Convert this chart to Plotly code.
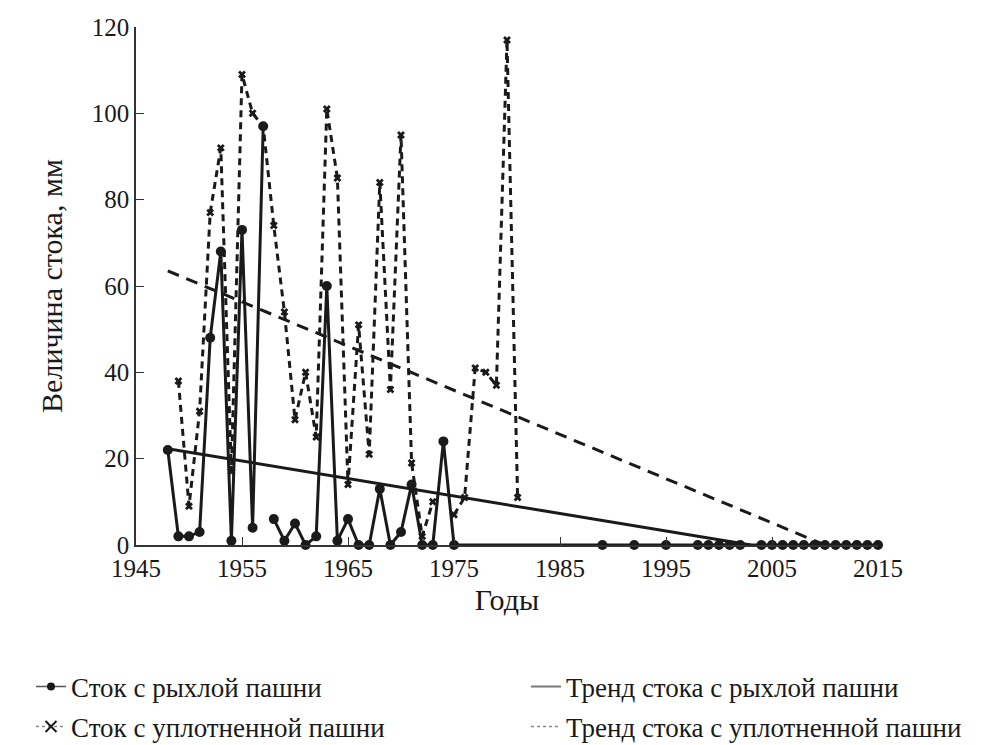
import plotly.graph_objects as go

# ---- data ----
years_loose = [1948, 1949, 1950, 1951, 1952, 1953, 1954, 1955, 1956, 1957,
               None,
               1958, 1959, 1960, 1961, 1962, 1963, 1964, 1965, 1966, 1967,
               1968, 1969, 1970, 1971, 1972, 1973, 1974, 1975,
               1989, 1992, 1995, 1998, 1999, 2000, 2001, 2002,
               2004, 2005, 2006, 2007, 2008, 2009, 2010, 2011, 2012, 2013, 2014, 2015]
runoff_loose = [22, 2, 2, 3, 48, 68, 1, 73, 4, 97,
                None,
                6, 1, 5, 0, 2, 60, 1, 6, 0, 0,
                13, 0, 3, 14, 0, 0, 24, 0,
                0, 0, 0, 0, 0, 0, 0, 0,
                0, 0, 0, 0, 0, 0, 0, 0, 0, 0, 0, 0]

years_dense = [1949, 1950, 1951, 1952, 1953, 1954, 1955, 1956, 1957, 1958,
               1959, 1960, 1961, 1962, 1963, 1964, 1965, 1966, 1967, 1968,
               1969, 1970, 1971, 1972, 1973, 1974, 1975, 1976, 1977, 1978,
               1979, 1980, 1981]
runoff_dense = [38, 9, 31, 77, 92, 17, 109, 100, 97, 74,
                54, 29, 40, 25, 101, 85, 14, 51, 21, 84,
                36, 95, 19, 2, 10, None, 7, 11, 41, 40,
                37, 117, 11]

trend_loose_years = [1948, 2003]
trend_loose_vals = [22.3, 0]
trend_dense_years = [1948, 2010]
trend_dense_vals = [63.5, 0]

x_ticks = [1945, 1955, 1965, 1975, 1985, 1995, 2005, 2015]
y_ticks = [0, 20, 40, 60, 80, 100, 120]

names = ["Сток с рыхлой пашни", "Тренд стока с рыхлой пашни",
         "Сток с уплотненной пашни", "Тренд стока с уплотненной пашни"]

FONT = "Liberation Serif"
BLACK = "#1a1a1a"

fig = go.Figure()

# chart traces
fig.add_trace(go.Scatter(x=trend_dense_years, y=trend_dense_vals, mode="lines",
                         line=dict(color=BLACK, width=3, dash="12px,8px"),
                         showlegend=False, cliponaxis=False))
fig.add_trace(go.Scatter(x=trend_loose_years, y=trend_loose_vals, mode="lines",
                         line=dict(color=BLACK, width=3),
                         showlegend=False, cliponaxis=False))
fig.add_trace(go.Scatter(x=years_dense, y=runoff_dense, mode="lines+markers",
                         line=dict(color=BLACK, width=3, dash="7px,5px"),
                         marker=dict(symbol="x", size=7, color=BLACK),
                         showlegend=False, cliponaxis=False, connectgaps=False))
fig.add_trace(go.Scatter(x=years_loose, y=runoff_loose, mode="lines+markers",
                         line=dict(color=BLACK, width=3),
                         marker=dict(symbol="circle", size=10, color=BLACK),
                         showlegend=False, cliponaxis=False, connectgaps=False))

# legend entries (one legend box per entry)
fig.add_trace(go.Scatter(x=[None], y=[None], mode="lines+markers", name=names[0],
                         line=dict(color="#555", width=1.5),
                         marker=dict(symbol="circle", size=8, color=BLACK),
                         legend="legend"))
fig.add_trace(go.Scatter(x=[None], y=[None], mode="lines", name=names[1],
                         line=dict(color="#777", width=2),
                         legend="legend2"))
fig.add_trace(go.Scatter(x=[None], y=[None], mode="lines+markers", name=names[2],
                         line=dict(color="#888", width=1.5, dash="dot"),
                         marker=dict(symbol="x-thin", size=11, color=BLACK,
                                     line=dict(width=2, color=BLACK)),
                         legend="legend3"))
fig.add_trace(go.Scatter(x=[None], y=[None], mode="lines", name=names[3],
                         line=dict(color="#888", width=1.5, dash="dot"),
                         legend="legend4"))

leg_common = dict(orientation="h", yanchor="middle", xanchor="left",
                  font=dict(size=27, family=FONT, color=BLACK),
                  bgcolor="rgba(0,0,0,0)", borderwidth=0)

fig.update_layout(
    width=993, height=745,
    margin=dict(l=136, r=115, t=27, b=200, autoexpand=False),
    paper_bgcolor="white", plot_bgcolor="white",
    font=dict(family=FONT, size=25, color=BLACK),
    xaxis=dict(range=[1945, 2015], tickvals=x_ticks, ticks="inside", ticklen=8,
               tickcolor="#333", showline=True, linecolor="#333", linewidth=1.5,
               showgrid=False, zeroline=False,
               title=dict(text="Годы", standoff=8),
               tickfont=dict(size=25)),
    yaxis=dict(range=[0, 120], tickvals=y_ticks, ticks="inside", ticklen=8,
               tickcolor="#333", showline=True, linecolor="#333", linewidth=1.5,
               showgrid=False, zeroline=False,
               title=dict(text="Величина стока, мм", standoff=20),
               tickfont=dict(size=25)),
    legend=dict(x=-0.1415, y=-0.274, **leg_common),
    legend2=dict(x=0.5256, y=-0.274, **leg_common),
    legend3=dict(x=-0.1415, y=-0.3513, **leg_common),
    legend4=dict(x=0.5256, y=-0.3513, **leg_common),
)

fig.write_html("out.html")
